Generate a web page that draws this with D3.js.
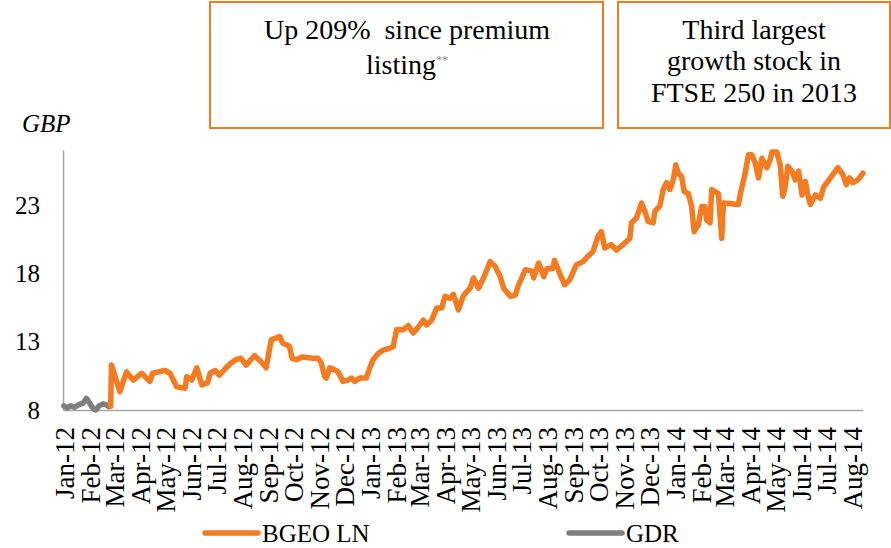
<!DOCTYPE html>
<html>
<head>
<meta charset="utf-8">
<script src="https://cdn.jsdelivr.net/npm/d3@7"></script>
<style>
  body { margin: 0; background: #fff; }
  text { font-family: "Liberation Serif", "Times New Roman", serif; }
</style>
</head>
<body>
<div id="chart"></div>
<script>
// share price, GBP
var bgeoDates = ["2012-02-27","2012-02-28","2012-03-09","2012-03-17","2012-03-25","2012-04-04","2012-04-14","2012-04-17",
  "2012-05-02","2012-05-08","2012-05-16","2012-05-26","2012-05-28","2012-06-03","2012-06-09","2012-06-15","2012-06-22",
  "2012-06-25","2012-07-01","2012-07-06","2012-07-14","2012-07-20","2012-07-26","2012-08-01","2012-08-07","2012-08-17",
  "2012-08-25","2012-08-31","2012-09-06","2012-09-12","2012-09-16","2012-09-20","2012-09-24","2012-09-28","2012-10-01",
  "2012-10-06","2012-10-14","2012-10-26","2012-11-01","2012-11-05","2012-11-09","2012-11-11","2012-11-15","2012-11-21",
  "2012-11-25","2012-12-01","2012-12-07","2012-12-11","2012-12-15","2012-12-21","2012-12-29","2013-01-02","2013-01-06",
  "2013-01-12","2013-01-18","2013-01-24","2013-01-30","2013-02-03","2013-02-11","2013-02-17","2013-02-23","2013-03-03",
  "2013-03-07","2013-03-11","2013-03-17","2013-03-23","2013-03-29","2013-04-02","2013-04-08","2013-04-12","2013-04-18",
  "2013-04-24","2013-05-02","2013-05-06","2013-05-12","2013-05-18","2013-05-26","2013-06-01","2013-06-07","2013-06-11",
  "2013-06-19","2013-06-25","2013-06-29","2013-07-07","2013-07-15","2013-07-17","2013-07-23","2013-07-29","2013-08-02",
  "2013-08-09","2013-08-11","2013-08-17","2013-08-23","2013-08-29","2013-09-06","2013-09-14","2013-09-20","2013-09-26",
  "2013-10-02","2013-10-06","2013-10-10","2013-10-18","2013-10-24","2013-11-01","2013-11-09","2013-11-11","2013-11-17",
  "2013-11-23","2013-11-27","2013-12-01","2013-12-07","2013-12-09","2013-12-15","2013-12-19","2013-12-23","2013-12-27",
  "2013-12-31","2014-01-03","2014-01-06","2014-01-10","2014-01-13","2014-01-18","2014-01-22","2014-01-25","2014-01-30",
  "2014-02-03","2014-02-07","2014-02-09","2014-02-13","2014-02-15","2014-02-19","2014-02-23","2014-02-27","2014-03-01",
  "2014-03-19","2014-03-21","2014-03-27","2014-03-31","2014-04-04","2014-04-08","2014-04-12","2014-04-16","2014-04-22",
  "2014-04-26","2014-04-28","2014-05-04","2014-05-08","2014-05-11","2014-05-14","2014-05-17","2014-05-22","2014-05-26",
  "2014-05-30","2014-06-03","2014-06-07","2014-06-10","2014-06-13","2014-06-19","2014-06-25","2014-06-29","2014-07-04",
  "2014-07-10","2014-07-16","2014-07-22","2014-07-26","2014-07-30","2014-08-03","2014-08-09","2014-08-15"];
var bgeoValues = [8.3,11.3,9.35,10.8,10.2,10.7,10.1,10.7,
  10.9,10.7,9.7,9.6,10.45,10.2,11.1,9.85,10.0,
  10.7,10.9,10.55,11.1,11.45,11.7,11.8,11.3,12.0,
  11.55,11.1,13.15,13.3,13.4,12.9,12.8,12.65,11.8,
  11.7,11.9,11.8,11.8,11.45,10.45,10.35,11.1,10.95,
  10.8,10.1,10.2,10.35,10.1,10.35,10.35,11.1,11.7,
  12.15,12.4,12.5,12.65,13.9,13.9,14.2,13.65,14.25,
  14.6,14.25,14.6,15.5,15.5,16.35,16.2,16.5,15.35,
  16.4,16.95,17.7,16.95,17.7,18.9,18.55,17.8,16.95,
  16.35,16.45,17.2,18.3,18.2,17.7,18.8,17.8,18.4,
  18.4,19.0,18.05,17.2,17.55,18.65,18.9,19.3,19.65,
  20.75,21.1,19.9,20.15,19.75,20.15,20.6,21.75,22.1,
  23.2,22.6,21.85,21.75,22.6,23.0,24.2,24.7,24.2,
  24.9,26.0,25.4,25.15,24.05,23.9,22.95,21.1,21.6,
  22.95,22.95,21.95,21.75,24.2,24.05,23.9,20.6,23.2,
  23.1,23.8,25.4,26.75,26.75,26.15,25.05,26.5,25.8,
  26.4,26.95,26.95,26.0,23.7,24.4,25.9,25.55,24.9,
  25.55,23.8,24.8,23.8,23.1,23.8,23.55,24.4,24.8,
  25.3,25.8,25.3,24.55,25.05,24.7,24.9,25.4];

var gdrDates = ["2012-01-02","2012-01-06","2012-01-10","2012-01-15","2012-01-20","2012-01-25","2012-01-29",
  "2012-02-02","2012-02-06","2012-02-09","2012-02-13","2012-02-18","2012-02-21","2012-02-25","2012-02-27"];
var gdrValues = [8.3,8.15,8.3,8.2,8.4,8.5,8.85,8.5,8.1,8.0,8.3,8.45,8.4,8.25,8.3];

var yTicks = [8, 13, 18, 23];
var seriesNames = ["BGEO LN", "GDR"];
var box1Lines = ["Up 209%  since premium", "listing"];
var box2Lines = ["Third largest", "growth stock in", "FTSE 250 in 2013"];

var orange = "#F47B20", grey = "#7F7F7F";
var serif = "'Liberation Serif', 'Times New Roman', serif";
var parse = d3.timeParse("%Y-%m-%d");

var svg = d3.select("#chart").append("svg")
    .attr("width", 891)
    .attr("height", 548)
    .attr("font-family", serif);

var x = d3.scaleTime()
    .domain([parse("2012-01-01"), parse("2014-08-15")])
    .range([63, 863]);
var y = d3.scaleLinear()
    .domain([8, 27.1])
    .range([410, 150]);

// axes
var xAxis = svg.append("g")
    .attr("transform", "translate(0,410)")
    .call(d3.axisBottom(x)
        .tickValues(d3.timeMonth.range(parse("2012-01-01"), parse("2014-08-02")))
        .tickFormat(d3.timeFormat("%b-%y"))
        .tickSize(0)
        .tickSizeOuter(0));
xAxis.attr("font-family", serif);
xAxis.select(".domain").attr("stroke", "#a6a6a6").attr("stroke-width", 1.5);
xAxis.selectAll("text")
    .attr("font-size", 27)
    .attr("fill", "#000")
    .attr("text-anchor", "end")
    .attr("transform", "rotate(-90)")
    .attr("x", -17)
    .attr("y", 1)
    .attr("dy", "0.35em");

var yAxis = svg.append("g")
    .attr("transform", "translate(63,0)")
    .call(d3.axisLeft(y).tickValues(yTicks).tickSize(0).tickSizeOuter(0).tickPadding(23));
yAxis.attr("font-family", serif);
yAxis.select(".domain").attr("stroke", "#a6a6a6").attr("stroke-width", 1.5);
yAxis.selectAll("text").attr("font-size", 25).attr("fill", "#000");

svg.append("text")
    .attr("x", 22).attr("y", 132)
    .attr("font-size", 25)
    .attr("font-style", "italic")
    .text("GBP");

// lines
var line = d3.line()
    .x(function(d) { return x(d.date); })
    .y(function(d) { return y(d.value); });

var gdr = gdrDates.map(function(d, i) { return {date: parse(d), value: gdrValues[i]}; });
var bgeo = bgeoDates.map(function(d, i) { return {date: parse(d), value: bgeoValues[i]}; });

svg.append("path").datum(gdr)
    .attr("d", line)
    .attr("fill", "none").attr("stroke", grey)
    .attr("stroke-width", 5.5).attr("stroke-linejoin", "round").attr("stroke-linecap", "round");
svg.append("path").datum(bgeo)
    .attr("d", line)
    .attr("fill", "none").attr("stroke", orange)
    .attr("stroke-width", 5.5).attr("stroke-linejoin", "round").attr("stroke-linecap", "round");

// legend
var legend = svg.selectAll(".legend")
    .data(seriesNames)
  .enter().append("g")
    .attr("transform", function(d, i) { return "translate(" + (i == 0 ? 205 : 569) + ",533)"; });
legend.append("line")
    .attr("x1", 0).attr("x2", 53)
    .attr("stroke", function(d, i) { return i == 0 ? orange : grey; })
    .attr("stroke-width", 5.5).attr("stroke-linecap", "round");
legend.append("text")
    .attr("x", 57).attr("y", 9)
    .attr("font-size", 25)
    .text(function(d) { return d; });

// callout boxes
svg.append("rect")
    .attr("x", 210).attr("y", 2).attr("width", 393).attr("height", 126)
    .attr("fill", "none").attr("stroke", orange).attr("stroke-width", 2);
svg.append("rect")
    .attr("x", 618).attr("y", 2).attr("width", 272).attr("height", 126)
    .attr("fill", "none").attr("stroke", orange).attr("stroke-width", 2);

svg.append("text")
    .attr("x", 407).attr("y", 39)
    .attr("text-anchor", "middle").attr("font-size", 28)
    .style("white-space", "pre")
    .text(box1Lines[0]);
var l2 = svg.append("text")
    .attr("x", 407).attr("y", 74)
    .attr("text-anchor", "middle").attr("font-size", 28);
l2.append("tspan").text(box1Lines[1]);
l2.append("tspan").attr("font-size", 12).attr("fill", "#888").attr("dy", -10).text("**");

svg.selectAll(".box2")
    .data(box2Lines)
  .enter().append("text")
    .attr("x", 754)
    .attr("y", function(d, i) { return 39 + i * 31.3; })
    .attr("text-anchor", "middle").attr("font-size", 28)
    .text(function(d) { return d; });
</script>
</body>
</html>
